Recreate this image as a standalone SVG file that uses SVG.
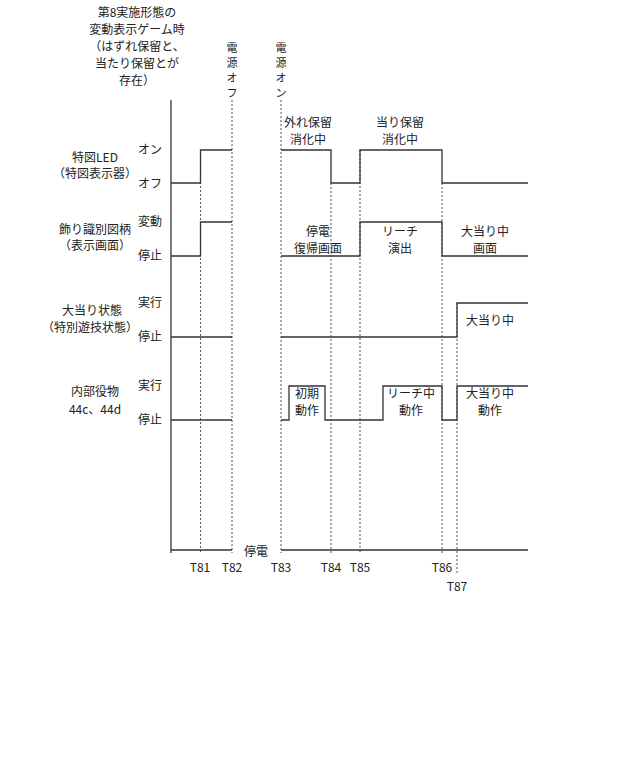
<svg xmlns="http://www.w3.org/2000/svg" width="640" height="783" viewBox="0 0 640 783">
<style>
text{font-family:"Noto Sans CJK JP","Noto Sans",sans-serif;font-size:12px;fill:#222;text-anchor:middle}
.v{font-size:11px}
.s{stroke:#333;stroke-width:1.3;fill:none}
.d{stroke:#555;stroke-width:1;stroke-dasharray:2,2;fill:none}
</style>
<rect width="640" height="783" fill="#fff"/>
<g id="header">
<text x="137" y="17">第8実施形態の</text>
<text x="137" y="34">変動表示ゲーム時</text>
<text x="137" y="51">（はずれ保留と、</text>
<text x="137" y="68">当たり保留とが</text>
<text x="137" y="85">存在）</text>
<text class="v" x="232" y="52">電</text><text class="v" x="232" y="67">源</text><text class="v" x="232" y="82">オ</text><text class="v" x="232" y="97">フ</text>
<text class="v" x="281" y="52">電</text><text class="v" x="281" y="67">源</text><text class="v" x="281" y="82">オ</text><text class="v" x="281" y="97">ン</text>
</g>
<g id="row-led">
<text x="95" y="162">特図LED</text><text x="95" y="178">（特図表示器）</text>
<text x="150" y="154">オン</text><text x="150" y="188">オフ</text>
</g>
<g id="row-symbol">
<text x="95" y="234">飾り識別図柄</text><text x="95" y="250">（表示画面）</text>
<text x="150" y="226">変動</text><text x="150" y="260">停止</text>
</g>
<g id="row-jackpot">
<text x="92" y="315">大当り状態</text><text x="90" y="332">（特別遊技状態）</text>
<text x="150" y="307">実行</text><text x="150" y="341">停止</text>
</g>
<g id="row-internal">
<text x="95" y="396">内部役物</text><text x="95" y="414">44c、44d</text>
<text x="150" y="390">実行</text><text x="150" y="424">停止</text>
</g>
<g id="connectors">
<path class="s" d="M171 100V553"/>
<path class="d" d="M200.5 150V553M232 100V553M281 100V553M331 183V553M360 150V553M442 183V553M457 303V575"/>
<path class="s" d="M171 183H200.5V150H232M281 150H331V183H360V150H442V183H528"/>
<path class="s" d="M171 256H200.5V222H232M281 256H360V222H442V256H528"/>
<path class="s" d="M171 337H232M281 337H457V303H528"/>
<path class="s" d="M171 420H232M281 420H289V386H325V420H383V386H442V420H457V386H528"/>
<path class="s" d="M171 550H232M281 550H528"/>
</g>
<g id="labels">
<text x="308" y="127">外れ保留</text><text x="308" y="144">消化中</text>
<text x="400" y="127">当り保留</text><text x="400" y="144">消化中</text>
<text x="318" y="236">停電</text><text x="318" y="253">復帰画面</text>
<text x="400" y="236">リーチ</text><text x="400" y="253">演出</text>
<text x="485" y="236">大当り中</text><text x="485" y="253">画面</text>
<text x="490" y="325">大当り中</text>
<text x="307" y="398">初期</text><text x="307" y="415">動作</text>
<text x="411" y="398">リーチ中</text><text x="411" y="415">動作</text>
<text x="490" y="398">大当り中</text><text x="490" y="415">動作</text>
<text x="256" y="556">停電</text>
<text x="200" y="572">T81</text><text x="232" y="572">T82</text><text x="281" y="572">T83</text>
<text x="331" y="572">T84</text><text x="360" y="572">T85</text><text x="442" y="572">T86</text><text x="457" y="591">T87</text>
</g>
</svg>
